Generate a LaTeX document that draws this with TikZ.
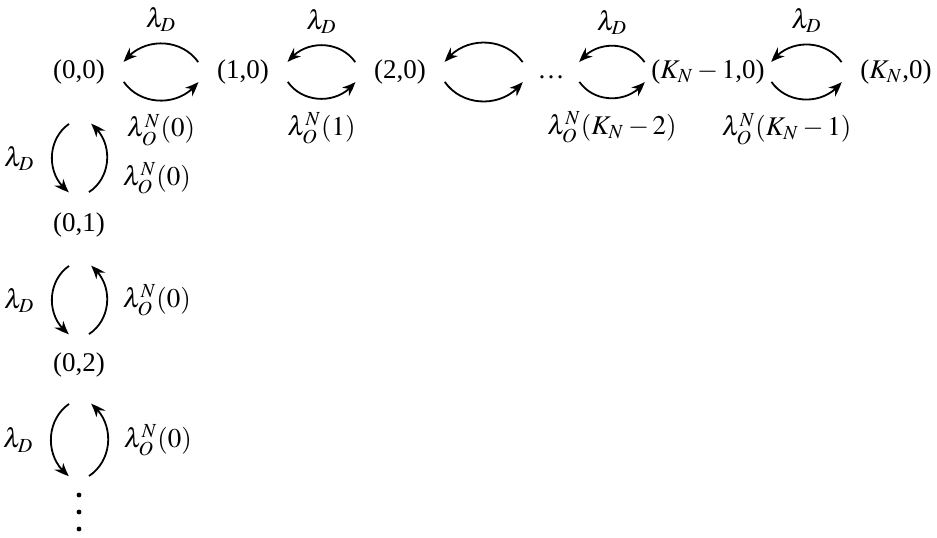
\documentclass[tikz,border=0pt]{standalone}
\usepackage{mathptmx}
\usepackage{fontspec}
\setmainfont{Liberation Serif}
\usetikzlibrary{arrows.meta,bending,calc}

\tikzset{
  state/.style={inner xsep=9pt, inner ysep=0pt, text height=7.5pt, text depth=1.5pt},
  trans/.style={->, bend right=55, looseness=1.05},
}

\begin{document}
\begin{tikzpicture}[x=0.5pt, y=0.5pt, line width=0.9pt, >={Stealth[length=7pt,width=5.5pt,bend]},
  font=\fontsize{13.5}{15}\selectfont]
\useasboundingbox (0,0) rectangle (937,-537);
% states along the top row
\node[state] (s00) at (79,-72) {(0,0)};
\node[state] (s10) at (243,-72) {(1,0)};
\node[state] (s20) at (400,-72) {(2,0)};
\node[state, inner xsep=7pt] (dots) at (551,-72) {\dots};
\node[state, inner xsep=3pt] (sK1) at (708,-72) {($K_N-1$,0)};
\node[state] (sK) at (896,-72) {($K_N$,0)};
% states down the first column
\node[state] (s01) at (79,-225) {(0,1)};
\node[state] (s02) at (79,-365) {(0,2)};
\coordinate (vd) at (79,-476);
\foreach \y in {495,512,529}
  \fill (79,-\y) circle (2.4);

% horizontal transitions
\draw[trans] (s10.north west) to node[above=2pt] {$\lambda_D$} (s00.north east);
\draw[trans] (s00.south east) to node[below=3pt] {$\lambda_O^N(0)$} (s10.south west);
\draw[trans] (s20.north west) to node[above=2pt] {$\lambda_D$} (s10.north east);
\draw[trans] (s10.south east) to node[below=3pt] {$\lambda_O^N(1)$} (s20.south west);
\draw[trans] (dots.north west) to (s20.north east);
\draw[trans] (s20.south east) to (dots.south west);
\draw[trans] (sK1.north west) to node[above=2pt] {$\lambda_D$} (dots.north east);
\draw[trans] (dots.south east) to node[below=3pt] {$\lambda_O^N(K_N-2)$} (sK1.south west);
\draw[trans] (sK.north west) to node[above=2pt] {$\lambda_D$} (sK1.north east);
\draw[trans] (sK1.south east) to node[below=3pt, xshift=-10pt] {$\lambda_O^N(K_N-1)$} (sK.south west);

% vertical transitions
\draw[trans] ($(s00.south)+(-10,-42)$) to node[left=5pt] {$\lambda_D$} ($(s01.north)+(-10,23)$);
\draw[trans] ($(s01.north)+(10,23)$) to node[right=4pt, yshift=-10pt] {$\lambda_O^N(0)$} ($(s00.south)+(12,-42)$);
\draw[trans] ($(s01.south)+(-10,-31)$) to node[left=5pt] {$\lambda_D$} ($(s02.north)+(-10,21)$);
\draw[trans] ($(s02.north)+(10,21)$) to node[right=4pt] {$\lambda_O^N(0)$} ($(s01.south)+(12,-31)$);
\draw[trans] ($(s02.south)+(-10,-29)$) to node[left=5pt] {$\lambda_D$} ($(vd)+(-10,0)$);
\draw[trans] ($(vd)+(10,0)$) to node[right=4pt] {$\lambda_O^N(0)$} ($(s02.south)+(12,-29)$);
\end{tikzpicture}
\end{document}
